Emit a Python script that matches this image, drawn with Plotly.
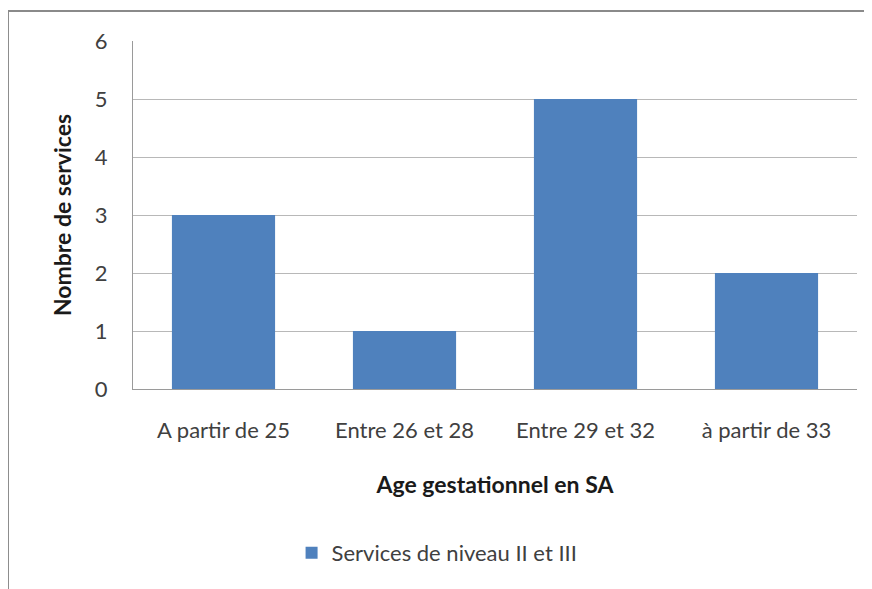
import plotly.graph_objects as go

categories = ["A partir de 25", "Entre 26 et 28", "Entre 29 et 32", "à partir de 33"]
values = [3, 1, 5, 2]
series_name = "Services de niveau II et III"
y_ticks = [0, 1, 2, 3, 4, 5, 6]

FONT = "Lato, 'Open Sans', sans-serif"

fig = go.Figure()
fig.add_trace(go.Bar(
    x=categories, y=values, name=series_name,
    marker=dict(color="#4F81BD", line=dict(width=0)),
    width=0.57,
))

fig.update_layout(
    width=864, height=581,
    margin=dict(l=125, r=15, t=33, b=200),
    paper_bgcolor="white", plot_bgcolor="white",
    font=dict(family=FONT, size=22, color="#404040"),
    showlegend=True,
    legend=dict(orientation="h", x=0.42, xanchor="center", y=-0.471, yanchor="middle",
                font=dict(size=22, color="#404040"), itemwidth=30),
    xaxis=dict(
        showline=True, linecolor="#9a9a9a", linewidth=1,
        ticks="", showgrid=False,
        ticklabelstandoff=22,
        tickfont=dict(size=22, color="#404040"),
        title=dict(text="<b>Age gestationnel en SA</b>", font=dict(size=23, color="#1a1a1a"), standoff=34),
    ),
    yaxis=dict(
        range=[0, 6], tickvals=y_ticks,
        showline=True, linecolor="#9a9a9a", linewidth=1,
        showgrid=True, gridcolor="#b8b8b8", gridwidth=1,
        ticks="", ticklen=0,
        ticklabelstandoff=20,
        tickfont=dict(size=22, color="#404040"),
        zeroline=False,
        title=dict(text="<b>Nombre de services</b>", font=dict(size=23, color="#1a1a1a"), standoff=16),
    ),
    shapes=[dict(type="rect", xref="paper", yref="paper",
                 x0=-0.1727, x1=1.04, y0=-0.7, y1=1.086,
                 line=dict(color="#8a8a8a", width=2), layer="below")],
)

fig.write_html("out.html")
